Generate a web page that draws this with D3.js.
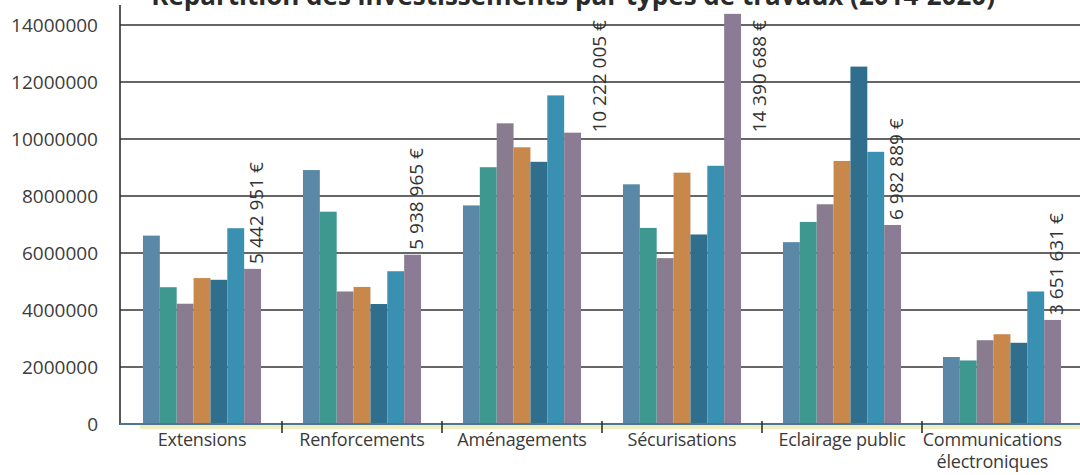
<!DOCTYPE html>
<html lang="fr">
<head>
<meta charset="utf-8">
<script src="https://cdn.jsdelivr.net/npm/d3@7"></script>
<style>
  html, body { margin: 0; padding: 0; background: #fff; }
  svg { display: block; font-family: "Open Sans", "DejaVu Sans", sans-serif; }
</style>
</head>
<body>
<svg id="chart" width="1080" height="475"></svg>
<script>
// Types de travaux (catégories de l'axe horizontal)
const categories = [
  "Extensions",
  "Renforcements",
  "Aménagements",
  "Sécurisations",
  "Eclairage public",
  "Communications\nélectroniques"
];

// Années (une barre par année dans chaque groupe)
const years = ["2014", "2015", "2016", "2017", "2018", "2019", "2020"];

// Montants (€) par année, dans l'ordre des catégories
const v2014 = [6610000, 8910000, 7670000, 8410000, 6380000, 2350000];
const v2015 = [4800000, 7450000, 9010000, 6880000, 7090000, 2230000];
const v2016 = [4220000, 4650000, 10550000, 5820000, 7710000, 2940000];
const v2017 = [5120000, 4810000, 9710000, 8820000, 9230000, 3150000];
const v2018 = [5060000, 4210000, 9200000, 6650000, 12540000, 2850000];
const v2019 = [6870000, 5360000, 11530000, 9060000, 9550000, 4650000];
const v2020 = [5442951, 5938965, 10222005, 14390688, 6982889, 3651631];

// Graduations de l'axe vertical
const yTicks = [0, 2000000, 4000000, 6000000, 8000000, 10000000, 12000000, 14000000];

const title = "Répartition des investissements par types de travaux (2014-2020)";

const seriesValues = [v2014, v2015, v2016, v2017, v2018, v2019, v2020];
const colors = ["#5a88a6", "#3f9890", "#8a7c8f", "#c8884c", "#2f6f8d", "#3a90b0", "#8b7b94"];

const rows = categories.map((c, i) => ({
  cat: c,
  values: years.map((y, j) => ({ year: y, value: seriesValues[j][i], idx: j }))
}));

const svg = d3.select("#chart");
const W = 1080, H = 475;
const axisX = 120;

const y = d3.scaleLinear().domain([0, 14000000]).range([424, 25]);
const x0 = d3.scaleBand().domain(categories).range([122, 1082])
  .paddingInner(0.262).paddingOuter(0.131);
const x1 = d3.scaleBand().domain(years).range([0, x0.bandwidth()]).padding(0);

// Titre (coupé par le haut du cadre)
svg.append("text")
  .attr("x", 995).attr("y", 5)
  .attr("text-anchor", "end")
  .attr("font-size", 26).attr("font-weight", 700)
  .attr("fill", "#2a2a2a")
  .text(title);

// Quadrillage horizontal
const grid = svg.append("g");
grid.selectAll("line")
  .data(yTicks.filter(d => d > 0))
  .join("line")
  .attr("x1", axisX).attr("x2", W)
  .attr("y1", d => y(d)).attr("y2", d => y(d))
  .attr("stroke", "#333").attr("stroke-width", 1.4);

// Axe vertical avec libellés
const yAxis = svg.append("g")
  .attr("transform", `translate(${axisX - 22},0)`)
  .call(d3.axisLeft(y).tickValues(yTicks).tickSize(0).tickPadding(0)
    .tickFormat(d3.format("d")));
yAxis.select(".domain").remove();
yAxis.selectAll("text")
  .attr("font-size", 19)
  .attr("fill", "#3c3c3c")
  .attr("font-family", "\"Open Sans\", sans-serif");

svg.append("line")
  .attr("x1", axisX).attr("x2", axisX)
  .attr("y1", 5).attr("y2", y(0) + 1)
  .attr("stroke", "#2e2e2e").attr("stroke-width", 1.6);

// Barres groupées
const groups = svg.append("g").selectAll("g")
  .data(rows)
  .join("g")
  .attr("transform", d => `translate(${x0(d.cat)},0)`);

groups.selectAll("rect")
  .data(d => d.values)
  .join("rect")
  .attr("x", d => x1(d.year))
  .attr("width", x1.bandwidth())
  .attr("y", d => y(d.value))
  .attr("height", d => y(0) - y(d.value))
  .attr("fill", d => colors[d.idx]);

// Ligne de base et repères entre catégories
svg.append("rect")
  .attr("x", 140).attr("width", W - 140)
  .attr("y", y(0) + 1).attr("height", 4)
  .attr("fill", "#eeeab0").attr("opacity", 0.8);
svg.append("line")
  .attr("x1", axisX).attr("x2", W)
  .attr("y1", y(0)).attr("y2", y(0))
  .attr("stroke", "#4d7595").attr("stroke-width", 2);

const step = x0.step();
const bounds = categories.slice(1).map(c => x0(c) - (step - x0.bandwidth()) / 2);
svg.append("g").selectAll("line")
  .data(bounds)
  .join("line")
  .attr("x1", d => d).attr("x2", d => d)
  .attr("y1", y(0) - 3).attr("y2", y(0) + 9)
  .attr("stroke", "#333").attr("stroke-width", 1.6);

// Libellés des catégories
const catLabels = svg.append("g").selectAll("text")
  .data(categories)
  .join("text")
  .attr("text-anchor", "middle")
  .attr("font-size", 18)
  .attr("letter-spacing", -0.2)
  .attr("fill", "#3a3a3a")
  .attr("transform", d => `translate(${x0(d) + x0.bandwidth() / 2},446)`);
catLabels.each(function(d) {
  const lines = d.split("\n");
  const t = d3.select(this);
  lines.forEach((ln, i) => {
    t.append("tspan").attr("x", 0).attr("y", i * 22).text(ln);
  });
  // garder le libellé à l'intérieur du cadre
  const bb = this.getBBox();
  const cx = x0(d) + x0.bandwidth() / 2;
  const overflow = cx + bb.x + bb.width - (W - 18);
  if (overflow > 0) t.attr("transform", `translate(${cx - overflow},446)`);
});

// Étiquettes de valeur pour 2020
const fmt = v => d3.format(",")(v).replace(/,/g, " ") + " €";
const lastYear = years[years.length - 1];
const valLabels = svg.append("g");
rows.forEach(r => {
  const d = r.values[r.values.length - 1];
  const bx = x0(r.cat) + x1(lastYear);
  const top = y(d.value);
  const t = valLabels.append("text")
    .attr("font-size", 19)
    .attr("fill", "#333")
    .text(fmt(d.value));
  const len = t.node().getComputedTextLength();
  if (top - 5 - len > 18) {
    // au-dessus de la barre, texte vertical
    const cx = bx + x1.bandwidth() / 2 + 4;
    t.attr("text-anchor", "start")
      .attr("dy", "0.35em")
      .attr("transform", `translate(${cx},${top - 5}) rotate(-90)`);
  } else {
    // à côté de la barre, aligné en haut du graphique
    const cx = bx + x1.bandwidth() + 18;
    t.attr("text-anchor", "end")
      .attr("dy", "0.35em")
      .attr("transform", `translate(${cx},20) rotate(-90)`);
  }
});
</script>
</body>
</html>
